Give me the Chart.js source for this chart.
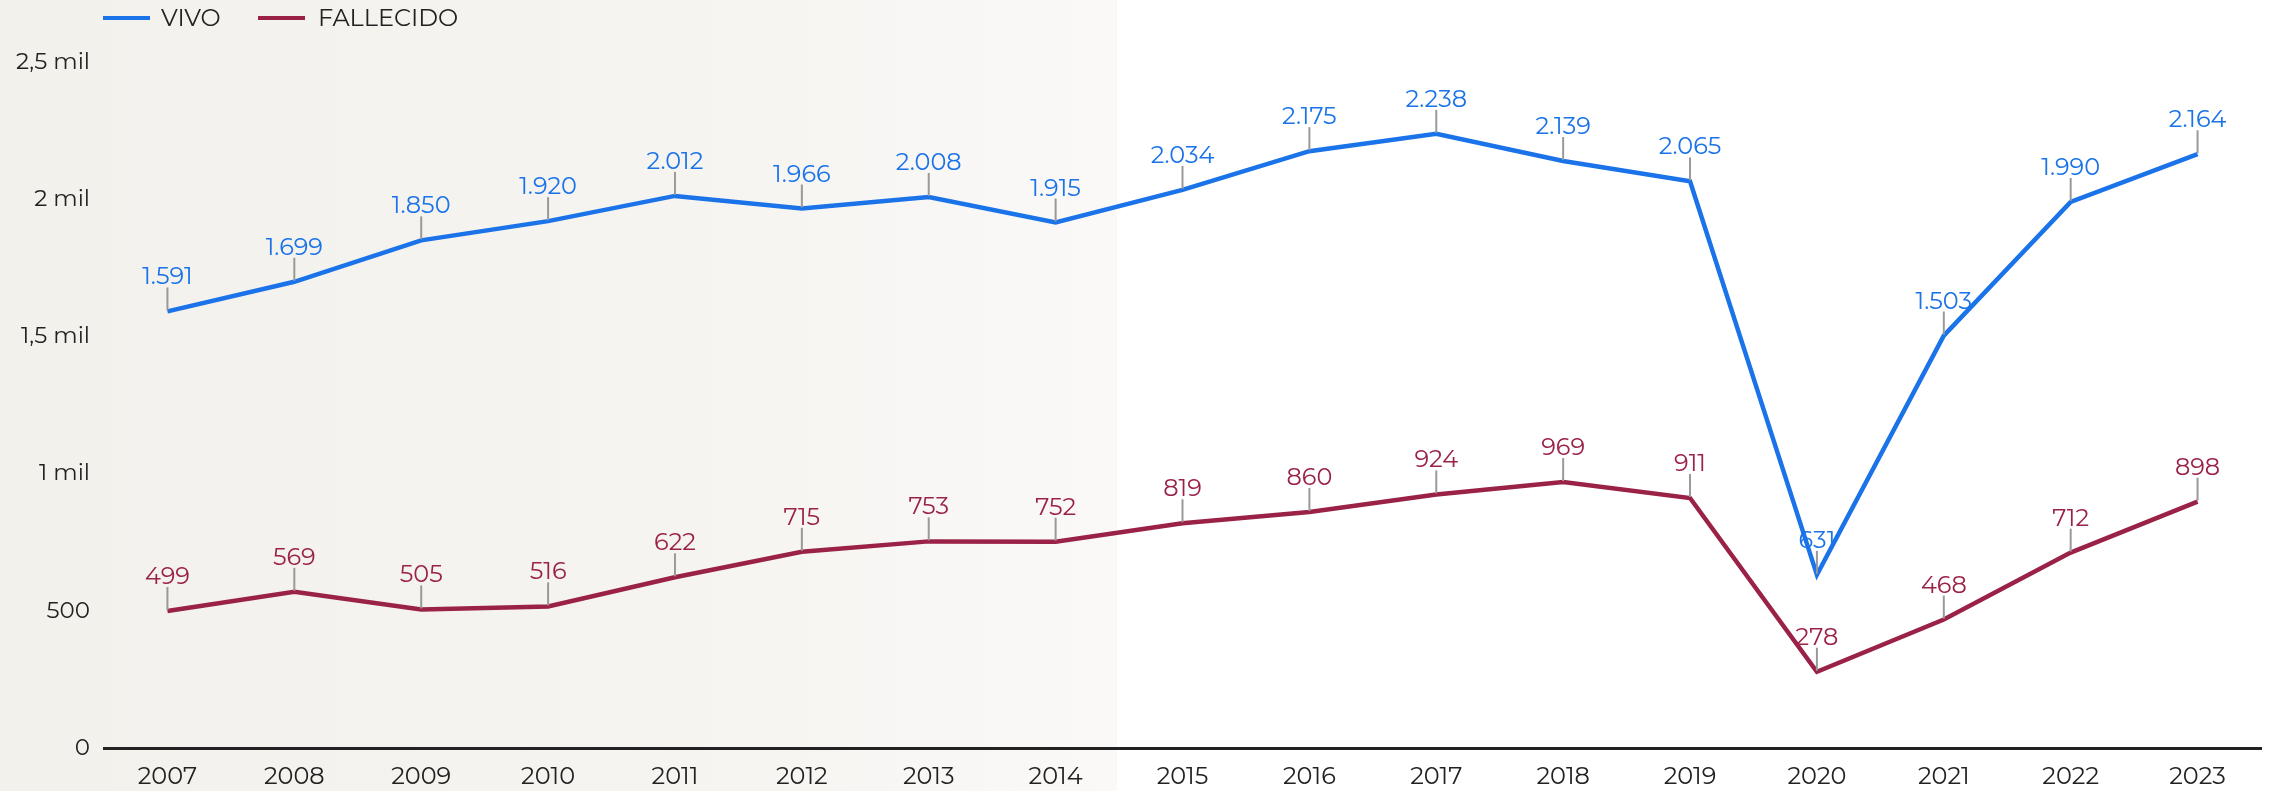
<!DOCTYPE html>
<html>
<head>
<meta charset="utf-8">
<script src="https://cdn.jsdelivr.net/npm/chart.js@4.4.1/dist/chart.umd.min.js"></script>
<style>
  html, body { margin: 0; padding: 0; background: #ffffff; }
  #wrap { width: 2274px; height: 791px; position: relative; }
</style>
</head>
<body>
<div id="wrap"><canvas id="myChart" width="2274" height="791"></canvas></div>
<script>
const years = ['2007', '2008', '2009', '2010', '2011', '2012', '2013', '2014', '2015',
               '2016', '2017', '2018', '2019', '2020', '2021', '2022', '2023']
const vivo = [1591, 1699, 1850, 1920, 2012, 1966, 2008, 1915, 2034, 2175, 2238, 2139, 2065, 631, 1503, 1990, 2164]
const fallecido = [499, 569, 505, 516, 622, 715, 753, 752, 819, 860, 924, 969, 911, 278, 468, 712, 898]
const yTicks = [0, 500, 1000, 1500, 2000, 2500]

const FONT = 'Montserrat, Lato, sans-serif'
const BLUE = '#1a73e8'
const RED = '#9b2247'

// 1591 -> "1.591"
const fmt = v => String(v).replace(/\B(?=(\d{3})+(?!\d))/g, '.')

// 1500 -> "1,5 mil"
const tickLabel = v => {
    if (v < 1000) return String(v)
    return String(v / 1000).replace('.', ',') + ' mil'
}

const background = {
    id: 'background',
    beforeDraw(chart) {
        const ctx = chart.ctx
        ctx.save()
        ctx.fillStyle = '#ffffff'
        ctx.fillRect(0, 0, chart.width, chart.height)
        let grad = ctx.createLinearGradient(0, 0, 1117, 0)
        grad.addColorStop(0, '#f3f1ec')
        grad.addColorStop(0.6, '#f6f4f0')
        grad.addColorStop(1, '#fbf9f8')
        ctx.fillStyle = grad
        ctx.fillRect(0, 0, 1117, chart.height)
        ctx.restore()
    }
}

const legendPlugin = {
    id: 'legendPlugin',
    afterDraw(chart) {
        const ctx = chart.ctx
        const items = [{x: 103, textX: 161}, {x: 258, textX: 318}]
        ctx.save()
        chart.data.datasets.forEach((ds, i) => {
            let it = items[i]
            ctx.fillStyle = ds.borderColor
            ctx.fillRect(it.x, 16, 47, 4)
            ctx.fillStyle = '#222222'
            ctx.font = '24px ' + FONT
            ctx.textBaseline = 'middle'
            ctx.textAlign = 'left'
            ctx.fillText(ds.label, it.textX, 19)
        })
        ctx.restore()
    }
}

const pointLabels = {
    id: 'pointLabels',
    afterDatasetsDraw(chart) {
        const ctx = chart.ctx
        ctx.save()
        chart.data.datasets.forEach((ds, i) => {
            let meta = chart.getDatasetMeta(i)
            meta.data.forEach((pt, j) => {
                ctx.strokeStyle = '#999999'
                ctx.lineWidth = 2
                ctx.beginPath()
                ctx.moveTo(pt.x, pt.y - 1)
                ctx.lineTo(pt.x, pt.y - 24)
                ctx.stroke()
                ctx.fillStyle = ds.borderColor
                ctx.font = '24px ' + FONT
                ctx.textAlign = 'center'
                ctx.textBaseline = 'alphabetic'
                ctx.fillText(fmt(ds.data[j]), pt.x, pt.y - 27)
            })
        })
        ctx.restore()
    }
}

let canvas = document.getElementById('myChart')

new Chart(canvas, {
    type: 'line',
    data: {
        labels: years,
        datasets: [
            {
                label: 'VIVO',
                data: vivo,
                borderColor: BLUE,
                backgroundColor: BLUE,
                borderWidth: 4.5,
                pointRadius: 0,
                tension: 0
            },
            {
                label: 'FALLECIDO',
                data: fallecido,
                borderColor: RED,
                backgroundColor: RED,
                borderWidth: 4.5,
                pointRadius: 0,
                tension: 0
            }
        ]
    },
    options: {
        responsive: false,
        animation: false,
        layout: {
            padding: {top: 62, right: 13, bottom: 0, left: 0}
        },
        plugins: {
            legend: {display: false},
            title: {display: false},
            tooltip: {enabled: false}
        },
        scales: {
            x: {
                offset: true,
                grid: {display: false, drawTicks: false},
                border: {display: true, color: '#222222', width: 3},
                ticks: {
                    color: '#222222',
                    font: {family: FONT, size: 24},
                    padding: 15,
                    maxRotation: 0,
                    autoSkip: false
                },
                afterFit: scale => { scale.height = 43 }
            },
            y: {
                min: 0,
                max: 2500,
                grid: {display: false, drawTicks: false},
                border: {display: false},
                afterBuildTicks: scale => {
                    scale.ticks = yTicks.map(v => ({value: v}))
                },
                ticks: {
                    color: '#222222',
                    font: {family: FONT, size: 23},
                    padding: 14,
                    callback: v => tickLabel(v)
                },
                afterFit: scale => { scale.width = 104 }
            }
        }
    },
    plugins: [background, legendPlugin, pointLabels]
})
</script>
</body>
</html>
